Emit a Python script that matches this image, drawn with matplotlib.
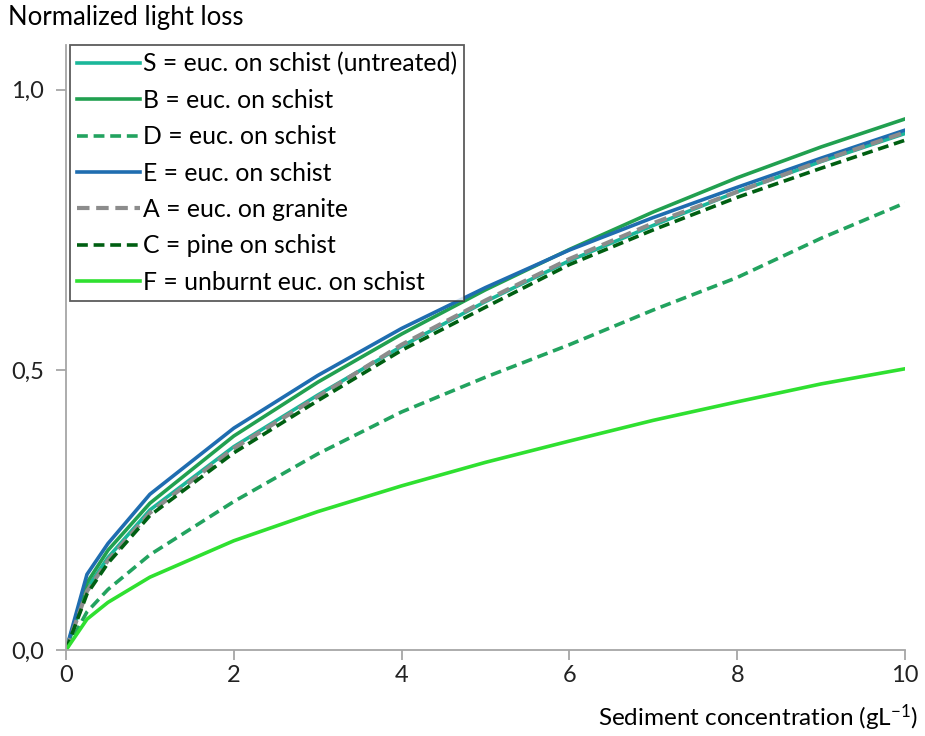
import matplotlib
matplotlib.use("Agg")
import matplotlib.pyplot as plt

plt.rcParams['font.family'] = ['Lato', 'DejaVu Sans']
plt.rcParams['mathtext.fontset'] = 'custom'
plt.rcParams['mathtext.rm'] = 'Lato'
plt.rcParams['mathtext.it'] = 'Lato'

# sediment concentration (g/L)
conc = [0, 0.25, 0.5, 1, 2, 3, 4, 5, 6, 7, 8, 9, 10]

# normalized light loss per sample
s_vals = [0, 0.11, 0.165, 0.25, 0.363, 0.455, 0.542, 0.622, 0.695, 0.758, 0.818, 0.872, 0.922]
b_vals = [0, 0.12, 0.178, 0.262, 0.382, 0.478, 0.564, 0.643, 0.715, 0.782, 0.843, 0.898, 0.948]
d_vals = [0, 0.068, 0.108, 0.17, 0.265, 0.35, 0.425, 0.487, 0.545, 0.607, 0.665, 0.735, 0.798]
e_vals = [0, 0.135, 0.19, 0.278, 0.396, 0.49, 0.574, 0.647, 0.714, 0.772, 0.826, 0.878, 0.928]
a_vals = [0, 0.105, 0.16, 0.245, 0.36, 0.452, 0.545, 0.624, 0.698, 0.762, 0.818, 0.873, 0.924]
c_vals = [0, 0.1, 0.155, 0.24, 0.352, 0.445, 0.535, 0.612, 0.688, 0.75, 0.808, 0.86, 0.91]
f_vals = [0, 0.055, 0.085, 0.13, 0.195, 0.247, 0.293, 0.335, 0.373, 0.41, 0.443, 0.475, 0.502]

labels = ["S = euc. on schist (untreated)", "B = euc. on schist", "D = euc. on schist",
          "E = euc. on schist", "A = euc. on granite", "C = pine on schist",
          "F = unburnt euc. on schist"]

fig = plt.figure(figsize=(9.25, 7.36), dpi=100)
ax = fig.add_axes([66 / 925, 1 - 650 / 736, 839 / 925, 605 / 736])

lw = 2.6
dash = (0, (3, 1.6))
ax.plot(conc, s_vals, color="#1bb79a", lw=lw, label=labels[0])
ax.plot(conc, b_vals, color="#21a050", lw=lw, label=labels[1])
ax.plot(conc, d_vals, color="#22a35f", lw=lw, ls=dash, label=labels[2])
ax.plot(conc, e_vals, color="#1f6db0", lw=lw, label=labels[3])
ax.plot(conc, a_vals, color="#8c8c8c", lw=lw + 0.4, ls=dash, label=labels[4])
ax.plot(conc, c_vals, color="#005f12", lw=lw, ls=dash, label=labels[5])
ax.plot(conc, f_vals, color="#2fe030", lw=lw, label=labels[6])

ax.set_xlim(0, 10)
ax.set_ylim(0, 1.08)
ax.set_xticks([0, 2, 4, 6, 8, 10])
ax.set_yticks([0, 0.5, 1.0])
ax.set_yticklabels(["0,0", "0,5", "1,0"])

for side in ["top", "right"]:
    ax.spines[side].set_visible(False)
for side in ["left", "bottom"]:
    ax.spines[side].set_color("#a6a6a6")
    ax.spines[side].set_linewidth(1.3)
ax.tick_params(colors="#a6a6a6", labelcolor="#222222", labelsize=17, length=7, width=1.3)
ax.tick_params(axis="y", pad=9)

fig.text(8 / 925, 1 - 18 / 736, "Normalized light loss", fontsize=18.5, va="center", ha="left")
fig.text(918 / 925, 1 - 718 / 736, r"Sediment concentration (gL$^{\mathregular{-1}}$)",
         fontsize=17.5, va="center", ha="right")

leg = ax.legend(loc="upper left", bbox_to_anchor=(70 / 925, 1 - 45 / 736),
                bbox_transform=fig.transFigure, fontsize=17.8, frameon=True,
                fancybox=False, handlelength=2.55, handletextpad=0.1,
                labelspacing=0.54, borderpad=0.3, borderaxespad=0)
leg.get_frame().set_edgecolor("#333333")
leg.get_frame().set_linewidth(1.3)

fig.savefig("out.png", dpi=100)
